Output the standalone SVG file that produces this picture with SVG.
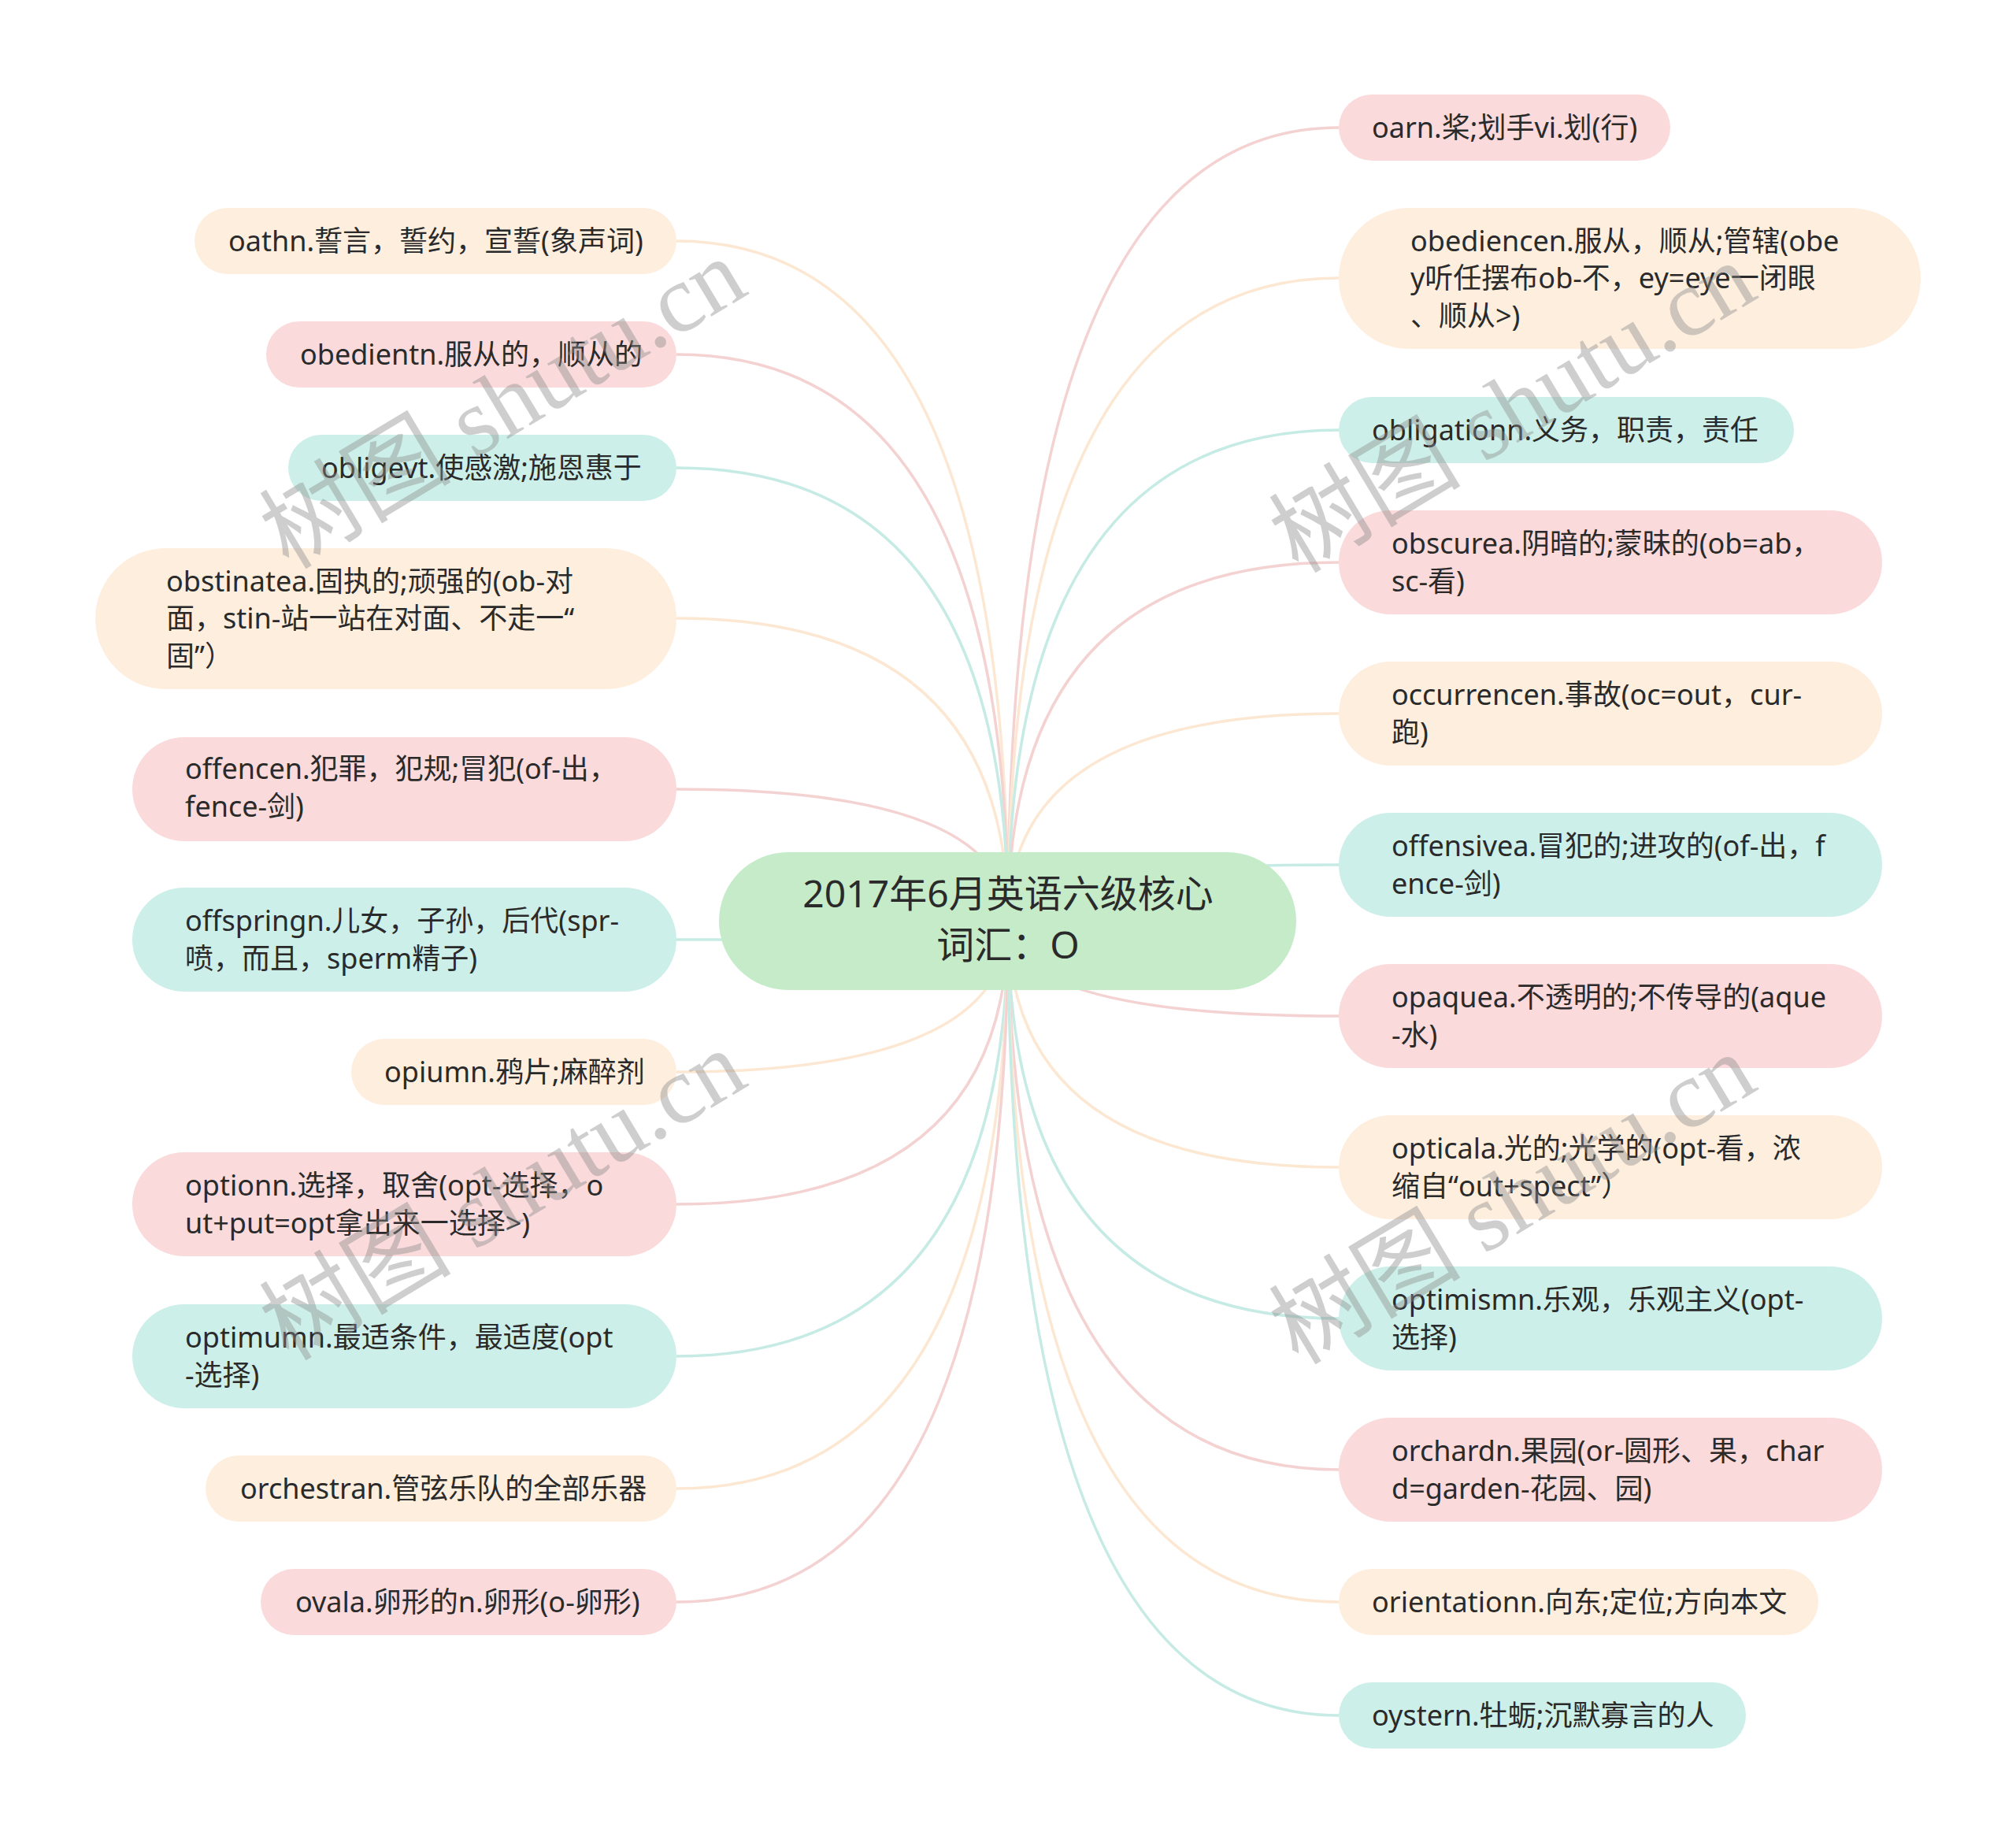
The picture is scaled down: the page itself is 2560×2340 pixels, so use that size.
<svg xmlns="http://www.w3.org/2000/svg" width="2560" height="2340" viewBox="0 0 2560 2340">
<style>
.bg{fill:#ffffff}
.c{fill:none;stroke-width:3.5}
.cp{stroke:#f4d2d2}
.cc{stroke:#fce8d2}
.ct{stroke:#c6ebe4}
.np{fill:#fadadb}
.nc{fill:#feeede}
.nt{fill:#cdefe9}
.nm{fill:#c5ebc8}
.t{font-family:"Noto Sans","Noto Sans CJK SC",sans-serif;font-size:36px;fill:#2a2a2a}
.tm{font-family:"Noto Sans","Noto Sans CJK SC",sans-serif;font-size:48px;fill:#2a2a2a;text-anchor:middle}
.wm{font-family:"Liberation Serif","Noto Sans CJK SC",serif;font-size:122px;fill:#8c8c8c;opacity:0.42;text-anchor:middle}
</style>
<rect class="bg" x="0" y="0" width="2560" height="2340"/>
<g id="connectors">
<path class="c cc" d="M1280 1170 Q1280 306 859 306"/>
<path class="c cp" d="M1280 1170 Q1280 450 859 450"/>
<path class="c ct" d="M1280 1170 Q1280 594 859 594"/>
<path class="c cc" d="M1280 1170 Q1280 785 859 785"/>
<path class="c cp" d="M1280 1170 Q1280 1002 859 1002"/>
<path class="c ct" d="M1280 1170 Q1280 1193 859 1193"/>
<path class="c cc" d="M1280 1170 Q1280 1361 859 1361"/>
<path class="c cp" d="M1280 1170 Q1280 1529 859 1529"/>
<path class="c ct" d="M1280 1170 Q1280 1722 859 1722"/>
<path class="c cc" d="M1280 1170 Q1280 1890 859 1890"/>
<path class="c cp" d="M1280 1170 Q1280 2034 859 2034"/>
<path class="c cp" d="M1280 1170 Q1280 162 1700 162"/>
<path class="c cc" d="M1280 1170 Q1280 353 1700 353"/>
<path class="c ct" d="M1280 1170 Q1280 546 1700 546"/>
<path class="c cp" d="M1280 1170 Q1280 714 1700 714"/>
<path class="c cc" d="M1280 1170 Q1280 906 1700 906"/>
<path class="c ct" d="M1280 1170 Q1280 1098 1700 1098"/>
<path class="c cp" d="M1280 1170 Q1280 1290 1700 1290"/>
<path class="c cc" d="M1280 1170 Q1280 1482 1700 1482"/>
<path class="c ct" d="M1280 1170 Q1280 1674 1700 1674"/>
<path class="c cp" d="M1280 1170 Q1280 1866 1700 1866"/>
<path class="c cc" d="M1280 1170 Q1280 2034 1700 2034"/>
<path class="c ct" d="M1280 1170 Q1280 2178 1700 2178"/>
</g>
<g id="center">
<rect class="nm" x="913" y="1082" width="733" height="175" rx="87.5"/>
<text class="tm" x="1280" y="1152">2017年6月英语六级核心</text>
<text class="tm" x="1280" y="1217">词汇：O</text>
</g>
<g id="n-oath"><rect class="nc" x="247" y="264" width="612" height="84" rx="42"/><text class="t" x="290" y="319">oathn.誓言，誓约，宣誓(象声词)</text></g>
<g id="n-obedient"><rect class="np" x="338" y="408" width="521" height="84" rx="42"/><text class="t" x="381" y="463">obedientn.服从的，顺从的</text></g>
<g id="n-oblige"><rect class="nt" x="366" y="552" width="493" height="84" rx="42"/><text class="t" x="408" y="607">obligevt.使感激;施恩惠于</text></g>
<g id="n-obstinate"><rect class="nc" x="121" y="696" width="738" height="179" rx="89.5"/><text class="t" x="211" y="751">obstinatea.固执的;顽强的(ob-对</text><text class="t" x="211" y="798">面，stin-站一站在对面、不走一“</text><text class="t" x="211" y="846">固”）</text></g>
<g id="n-offence"><rect class="np" x="168" y="936" width="691" height="132" rx="66"/><text class="t" x="235" y="989">offencen.犯罪，犯规;冒犯(of-出，</text><text class="t" x="235" y="1037">fence-剑)</text></g>
<g id="n-offspring"><rect class="nt" x="168" y="1127" width="691" height="132" rx="66"/><text class="t" x="235" y="1182">offspringn.儿女，子孙，后代(spr-</text><text class="t" x="235" y="1230">喷，而且，sperm精子)</text></g>
<g id="n-opium"><rect class="nc" x="446" y="1319" width="413" height="84" rx="42"/><text class="t" x="488" y="1374">opiumn.鸦片;麻醉剂</text></g>
<g id="n-option"><rect class="np" x="168" y="1463" width="691" height="132" rx="66"/><text class="t" x="235" y="1518">optionn.选择，取舍(opt-选择，o</text><text class="t" x="235" y="1566">ut+put=opt拿出来一选择&gt;)</text></g>
<g id="n-optimum"><rect class="nt" x="168" y="1656" width="691" height="132" rx="66"/><text class="t" x="235" y="1711">optimumn.最适条件，最适度(opt</text><text class="t" x="235" y="1759">-选择)</text></g>
<g id="n-orchestra"><rect class="nc" x="261" y="1848" width="598" height="84" rx="42"/><text class="t" x="305" y="1903">orchestran.管弦乐队的全部乐器</text></g>
<g id="n-oval"><rect class="np" x="331" y="1992" width="528" height="84" rx="42"/><text class="t" x="375" y="2047">ovala.卵形的n.卵形(o-卵形)</text></g>
<g id="n-oar"><rect class="np" x="1700" y="120" width="421" height="84" rx="42"/><text class="t" x="1742" y="175">oarn.桨;划手vi.划(行)</text></g>
<g id="n-obedience"><rect class="nc" x="1700" y="264" width="739" height="179" rx="89.5"/><text class="t" x="1791" y="319">obediencen.服从，顺从;管辖(obe</text><text class="t" x="1791" y="366">y听任摆布ob-不，ey=eye一闭眼</text><text class="t" x="1791" y="414">、顺从&gt;)</text></g>
<g id="n-obligation"><rect class="nt" x="1700" y="504" width="578" height="84" rx="42"/><text class="t" x="1742" y="559">obligationn.义务，职责，责任</text></g>
<g id="n-obscure"><rect class="np" x="1700" y="648" width="690" height="132" rx="66"/><text class="t" x="1767" y="703">obscurea.阴暗的;蒙昧的(ob=ab，</text><text class="t" x="1767" y="751">sc-看)</text></g>
<g id="n-occurrence"><rect class="nc" x="1700" y="840" width="690" height="132" rx="66"/><text class="t" x="1767" y="895">occurrencen.事故(oc=out，cur-</text><text class="t" x="1767" y="943">跑)</text></g>
<g id="n-offensive"><rect class="nt" x="1700" y="1032" width="690" height="132" rx="66"/><text class="t" x="1767" y="1087">offensivea.冒犯的;进攻的(of-出，f</text><text class="t" x="1767" y="1135">ence-剑)</text></g>
<g id="n-opaque"><rect class="np" x="1700" y="1224" width="690" height="132" rx="66"/><text class="t" x="1767" y="1279">opaquea.不透明的;不传导的(aque</text><text class="t" x="1767" y="1327">-水)</text></g>
<g id="n-optical"><rect class="nc" x="1700" y="1416" width="690" height="132" rx="66"/><text class="t" x="1767" y="1471">opticala.光的;光学的(opt-看，浓</text><text class="t" x="1767" y="1519">缩自“out+spect”）</text></g>
<g id="n-optimism"><rect class="nt" x="1700" y="1608" width="690" height="132" rx="66"/><text class="t" x="1767" y="1663">optimismn.乐观，乐观主义(opt-</text><text class="t" x="1767" y="1711">选择)</text></g>
<g id="n-orchard"><rect class="np" x="1700" y="1800" width="690" height="132" rx="66"/><text class="t" x="1767" y="1855">orchardn.果园(or-圆形、果，char</text><text class="t" x="1767" y="1903">d=garden-花园、园)</text></g>
<g id="n-orientation"><rect class="nc" x="1700" y="1992" width="609" height="84" rx="42"/><text class="t" x="1742" y="2047">orientationn.向东;定位;方向本文</text></g>
<g id="n-oyster"><rect class="nt" x="1700" y="2136" width="517" height="84" rx="42"/><text class="t" x="1742" y="2191">oystern.牡蛎;沉默寡言的人</text></g>
<g id="watermarks">
<text class="wm" transform="translate(660 548) rotate(-31)">树图 shutu.cn</text>
<text class="wm" transform="translate(660 1553) rotate(-31)">树图 shutu.cn</text>
<text class="wm" transform="translate(1942 553) rotate(-31)">树图 shutu.cn</text>
<text class="wm" transform="translate(1942 1558) rotate(-31)">树图 shutu.cn</text>
</g>
</svg>
